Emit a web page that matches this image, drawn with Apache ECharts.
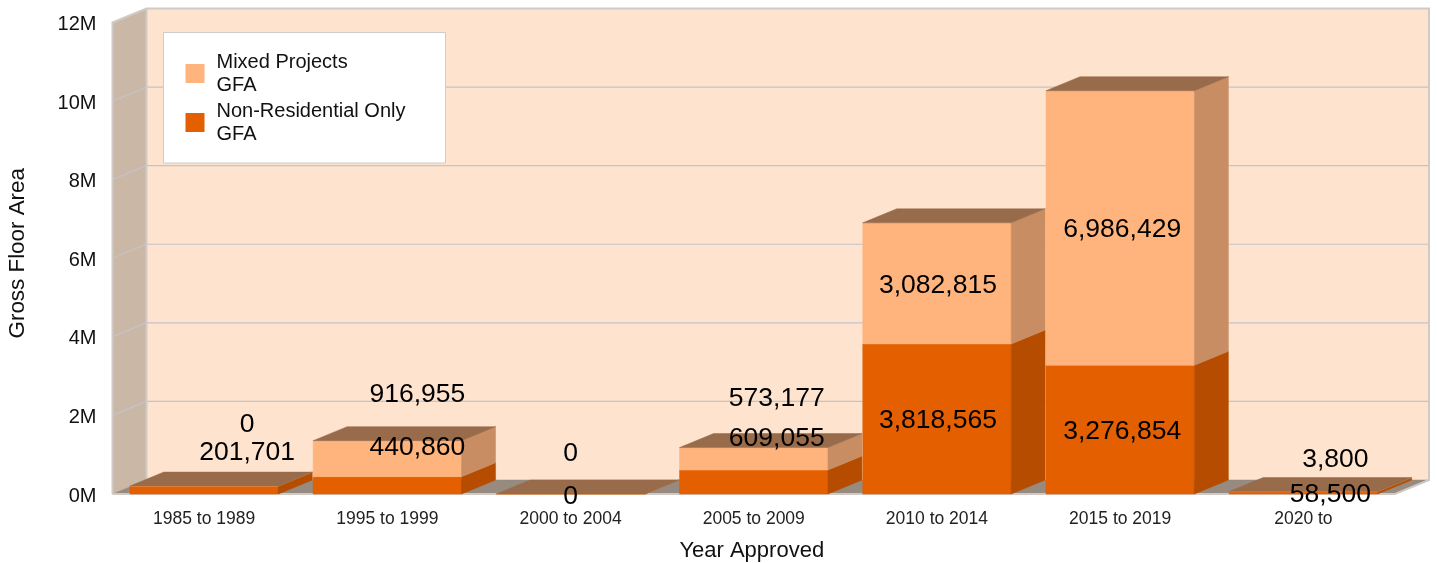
<!DOCTYPE html>
<html><head><meta charset="utf-8">
<style>html,body{margin:0;padding:0;background:#fff}#c{width:1437px;height:563px}</style>
<script src="https://cdn.jsdelivr.net/npm/echarts@6/dist/echarts.min.js"></script>
</head><body><div id="c"></div>
<script>
const categories = ['1985 to 1989','1995 to 1999','2000 to 2004','2005 to 2009','2010 to 2014','2015 to 2019','2020 to'];
const nonResidentialGfa = [201701,440860,0,609055,3818565,3276854,58500];
const mixedProjectsGfa = [0,916955,0,573177,3082815,6986429,3800];
const yTicks = [0,2000000,4000000,6000000,8000000,10000000,12000000];

const FONT = '"Liberation Sans", Arial, sans-serif';
const DX = 34, DY = -14, BAR_FRAC = 0.81;
const nonResLabelShift = [[43,-37],[30,-38],[0,3],[23,-43],[1,2],[2,2],[27,2]];
const mixedLabelShift  = [[43,-61],[30,-64],[0,-40],[23,-60],[1,2],[2,2],[32,-32]];

const poly = (pts, fill, z2) => ({type:'polygon', shape:{points:pts}, z2, silent:true, style:{fill, stroke:fill, lineWidth:0.5}});

function makeBar(palette, shifts, drawTop) {
  return function (params, api) {
    const i = api.value(0), lo = api.value(1), hi = api.value(2);
    const c0 = api.coord([i, lo]), c1 = api.coord([i, hi]);
    const w = api.size([1, 0])[0] * BAR_FRAC;
    const xl = c0[0] - w / 2, xr = c0[0] + w / 2, yb = c0[1], yt = c1[1];
    const kids = [
      poly([[xl,yb],[xr,yb],[xr,yt],[xl,yt]], palette.front, 10),
      poly([[xr,yb],[xr+DX,yb+DY],[xr+DX,yt+DY],[xr,yt]], palette.side, 10)
    ];
    if (drawTop) kids.push(poly([[xl,yt],[xr,yt],[xr+DX,yt+DY],[xl+DX,yt+DY]], palette.top, 11));
    const v = hi - lo, s = shifts[i];
    kids.push({type:'text', z2:100, silent:true, x:c0[0]+s[0], y:(yb+yt)/2+s[1],
      style:{text:v.toLocaleString('en-US'), fill:'#000', font:'26.5px '+FONT, align:'center', verticalAlign:'middle'}});
    return {type:'group', children:kids};
  };
}

const nonResData = categories.map((c,i)=>[i,0,nonResidentialGfa[i]]);
const mixedData = categories.map((c,i)=>[i,nonResidentialGfa[i],nonResidentialGfa[i]+mixedProjectsGfa[i]]);

const option = {
  animation:false,
  backgroundColor:'#fff',
  grid:{left:112.5,top:22.5,width:1282.5,height:471.5,containLabel:false,outerBoundsMode:'none'},
  legend:{
    left:163.5, top:32.5, orient:'vertical', icon:'rect', itemWidth:19, itemHeight:19, itemGap:3,
    padding:[18,40,17.5,22], backgroundColor:'#fff', borderColor:'#ccc', borderWidth:1,
    data:['Mixed Projects\nGFA','Non-Residential Only\nGFA'],
    textStyle:{fontFamily:FONT,fontSize:20,color:'#111',lineHeight:23,padding:[0,0,0,7]},
    itemStyle:{borderWidth:0}, selectedMode:false
  },
  xAxis:{type:'category',data:categories,boundaryGap:true,
    axisLine:{show:false},axisTick:{show:false},splitLine:{show:false},
    axisLabel:{fontFamily:FONT,fontSize:17.5,color:'#222',margin:16,interval:0},
    name:'Year Approved',nameLocation:'middle',nameGap:46,
    nameTextStyle:{fontFamily:FONT,fontSize:22,color:'#111',padding:[0,4,0,0]}},
  yAxis:{type:'value',min:0,max:12000000,interval:2000000,
    axisLine:{show:false},axisTick:{show:false},splitLine:{show:false},
    axisLabel:{fontFamily:FONT,fontSize:20,color:'#111',margin:16,
      formatter:v=>'{a|'+(v/1e6)+'M}',
      rich:{a:{fontFamily:FONT,fontSize:20,color:'#111',padding:[4,0,0,0]}}},
    name:'Gross Floor Area',nameLocation:'middle',nameGap:84,
    nameTextStyle:{fontFamily:FONT,fontSize:22.4,color:'#111',padding:[0,0,0,10]}},
  series:[
    {type:'custom',silent:true,z:1,data:yTicks.map(t=>[t]),encode:{y:0},
     renderItem(params,api){
       const g=params.coordSys, L=g.x,R=g.x+g.width,T=g.y,B=g.y+g.height;
       const y=api.coord([0,api.value(0)])[1];
       const kids=[];
       if(params.dataIndex===0){
         kids.push(poly([[L+DX,T+DY],[R+DX,T+DY],[R+DX,B+DY],[L+DX,B+DY]],'#fee3ce',0));
         kids.push(poly([[L,T],[L+DX,T+DY],[L+DX,B+DY],[L,B]],'#cbb7a6',0));
         kids.push(poly([[L,B],[L+DX,B+DY],[R+DX,B+DY],[R,B]],'#978a7e',0));
         const edge={stroke:'#cfcac6',lineWidth:2};
         kids.push({type:'polyline',z2:2,shape:{points:[[L,B],[L,T],[L+DX,T+DY],[R+DX,T+DY],[R+DX,B+DY],[R,B],[L,B]]},style:{fill:null,stroke:'#cfcac6',lineWidth:2}});
         kids.push({type:'line',z2:2,shape:{x1:L+DX,y1:T+DY,x2:L+DX,y2:B+DY},style:edge});
       } else if (y>T+1) {
         const ln={stroke:'#c3c3c8',lineWidth:1.2};
         kids.push({type:'line',z2:1,shape:{x1:L+DX,y1:y+DY,x2:R+DX,y2:y+DY},style:ln});
         kids.push({type:'line',z2:1,shape:{x1:L,y1:y,x2:L+DX,y2:y+DY},style:ln});
       }
       return {type:'group',children:kids};
     }},
    {type:'custom',name:'Non-Residential Only\nGFA',z:2,data:nonResData,itemStyle:{color:'#e35f00'},
     encode:{x:0,y:[1,2]},
     renderItem:makeBar({front:'#e35f00',side:'#b54c00'},nonResLabelShift,false)},
    {type:'custom',name:'Mixed Projects\nGFA',z:2,data:mixedData,itemStyle:{color:'#ffb47d'},
     encode:{x:0,y:[1,2]},
     renderItem:makeBar({front:'#ffb47d',side:'#c98d63',top:'#986b4b'},mixedLabelShift,true)}
  ]
};
echarts.init(document.getElementById('c'),null,{renderer:'canvas'}).setOption(option);
</script></body></html>
